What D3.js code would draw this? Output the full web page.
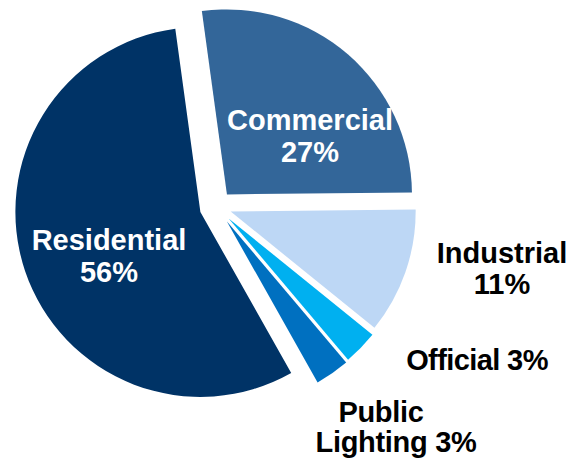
<!DOCTYPE html>
<html>
<head>
<meta charset="utf-8">
<script src="https://cdn.jsdelivr.net/npm/d3@7"></script>
<style>
  html, body { margin: 0; padding: 0; background: #fff; }
  svg { display: block; }
  text { font-family: "Liberation Sans", Arial, sans-serif; font-weight: bold; }
</style>
</head>
<body>
<svg id="chart" width="569" height="464"></svg>
<script>
// Electricity consumption share by sector (%)
const categories = ["Commercial", "Industrial", "Official", "Public Lighting", "Residential"];
const shares = [27, 11, 3, 3, 56];

// Presentation settings
const colors = ["#336699", "#BDD7F5", "#00B0F0", "#0070C0", "#003366"];
const explode = [16, 15, 17, 18, 17];
const textColors = ["#fff", "#000", "#000", "#000", "#fff"];
const letterSpacing = [0, 0, -0.6, -0.3, 0];
// words per line for each label, and the anchor of each line
const wordsPerLine = [[1, 1], [1, 1], [2], [1, 2], [1, 1]];
const lineAnchors = [
  [[310, 130], [310, 162]],
  [[502, 263], [502, 294]],
  [[477, 370]],
  [[381, 422], [396, 452]],
  [[109, 250], [109, 282]]
];

const width = 569, height = 464;
const cx = 216.5, cy = 206.5, radius = 185;
const startDeg = -7.8;

const svg = d3.select("#chart");

const rows = categories.map((c, i) => ({ name: c, value: shares[i], i }));

const pie = d3.pie()
  .sort(null)
  .value(d => d.value)
  .startAngle(startDeg * Math.PI / 180)
  .endAngle(startDeg * Math.PI / 180 + 2 * Math.PI);

const arc = d3.arc().innerRadius(0).outerRadius(radius);

const g = svg.append("g").attr("transform", `translate(${cx},${cy})`);

g.selectAll("path.slice")
  .data(pie(rows))
  .join("path")
  .attr("class", "slice")
  .attr("fill", d => colors[d.data.i])
  .attr("transform", d => {
    const mid = (d.startAngle + d.endAngle) / 2;
    const off = explode[d.data.i];
    return `translate(${off * Math.sin(mid)},${-off * Math.cos(mid)})`;
  })
  .attr("d", arc);

// Labels: name followed by percentage, broken into lines
rows.forEach((r, i) => {
  const words = (r.name + " " + r.value + "%").split(" ");
  let k = 0;
  wordsPerLine[i].forEach((n, li) => {
    const line = words.slice(k, k + n).join(" ");
    k += n;
    const [x, y] = lineAnchors[i][li];
    svg.append("text")
      .attr("x", x)
      .attr("y", y)
      .attr("text-anchor", "middle")
      .attr("font-size", "29px")
      .attr("letter-spacing", letterSpacing[i] + "px")
      .attr("fill", textColors[i])
      .text(line);
  });
});
</script>
</body>
</html>
